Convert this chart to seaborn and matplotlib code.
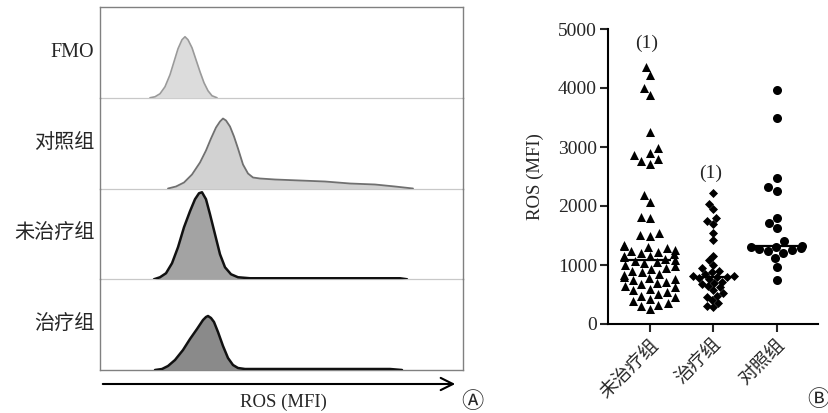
import numpy as np
import pandas as pd
import matplotlib
matplotlib.use('Agg')
import matplotlib.pyplot as plt
import seaborn as sns

# ---- 面板A：流式直方图（横坐标为荧光通道，纵坐标为细胞数，按图读取） ----
hist_names = ['FMO', '对照组', '未治疗组', '治疗组']

fmo_x = [50, 55, 60, 65, 70, 74, 78, 82, 85, 88, 92, 96, 100, 104, 108, 112, 117]
fmo_y = [0, 1, 4, 11, 23, 36, 49, 58, 61, 58, 50, 38, 26, 15, 7, 2, 0]

ctrl_x = [68, 76, 84, 92, 100, 106, 111, 116, 120, 123, 126, 130, 134, 138, 143,
          148, 153, 160, 175, 200, 225, 250, 275, 295, 313]
ctrl_y = [0, 2, 6, 14, 26, 38, 50, 61, 67, 70, 68, 62, 52, 40, 24,
          15, 11, 10, 9, 8, 7, 5, 4, 2, 0]

unt_x = [54, 60, 66, 72, 78, 84, 90, 95, 99, 102, 106, 110, 115, 120, 125, 131,
         138, 150, 180, 220, 260, 300, 307]
unt_y = [0, 2, 6, 16, 32, 52, 68, 80, 86, 87, 80, 65, 45, 25, 12, 5,
         2, 1, 1, 1, 1, 1, 0]

trt_x = [55, 62, 68, 75, 83, 90, 97, 103, 106, 108, 111, 114, 118, 123, 128, 133,
         138, 145, 170, 210, 250, 290, 302]
trt_y = [0, 1, 4, 10, 20, 31, 41, 50, 53, 54, 52, 48, 38, 24, 12, 5,
         2, 1, 1, 1, 1, 1, 0]

hist_x = [fmo_x, ctrl_x, unt_x, trt_x]
hist_y = [fmo_y, ctrl_y, unt_y, trt_y]
hist_fill = ['#dcdcdc', '#d2d2d2', '#a3a3a3', '#8a8a8a']
hist_edge = ['#9a9a9a', '#707070', '#111111', '#111111']
hist_lw = [1.2, 1.3, 1.8, 1.8]

# ---- 面板B：ROS (MFI) 散点 ----
groups = ['未治疗组', '治疗组', '对照组']
untreated = [4360, 4220, 4000, 3880, 3260, 2980, 2900, 2860, 2800, 2760, 2720,
             2190, 2070, 1820, 1790, 1540, 1510, 1500,
             1340, 1320, 1300, 1280, 1260, 1240, 1220, 1200, 1180, 1160, 1150, 1130, 1110, 1090,
             1070, 1050, 1030, 1000, 980, 950, 930, 900, 880, 850, 830, 800, 780, 760, 740, 720,
             700, 670, 650, 620, 600, 570, 540, 510, 480, 450, 420, 390, 360, 330, 300, 260]
treated = [2220, 2030, 1950, 1800, 1740, 1700, 1540, 1430, 1160, 1080, 1000, 950,
           900, 880, 850, 820, 810, 800, 790, 780, 760, 720, 700, 680, 650, 620,
           580, 520, 480, 450, 400, 350, 300, 280]
control = [3970, 3490, 2470, 2320, 2260, 1790, 1710, 1630, 1400, 1310, 1320, 1300,
           1290, 1270, 1250, 1230, 1200, 1120, 970, 750]
group_values = [untreated, treated, control]
group_markers = ['^', 'D', 'o']
group_sizes = [6.5, 4.6, 6.5]
sig_labels = ['(1)', '(1)', '']
sig_y = [4750, 2550, None]

df = pd.DataFrame({
    '组': np.repeat(groups, [len(v) for v in group_values]),
    'ROS': np.concatenate(group_values),
})

sns.set_theme(style='white')
plt.rcParams['font.family'] = ['Liberation Serif', 'Noto Sans CJK SC', 'DejaVu Sans']
plt.rcParams['axes.unicode_minus'] = False
circ_family = ['Noto Sans CJK SC', 'DejaVu Sans']

W, H = 829, 413
fig = plt.figure(figsize=(W / 100, H / 100), dpi=100)

# 面板A
left_px, right_px, top_px, row_h = 100, 463, 7, 90.75
for i, name in enumerate(hist_names):
    bottom = 1 - (top_px + row_h * (i + 1)) / H
    ax = fig.add_axes([left_px / W, bottom, (right_px - left_px) / W, row_h / H])
    ax.patch.set_alpha(0)
    ax.fill_between(hist_x[i], hist_y[i], 0, color=hist_fill[i], lw=0)
    sns.lineplot(x=hist_x[i], y=hist_y[i], ax=ax, color=hist_edge[i], lw=hist_lw[i],
                 sort=False, estimator=None)
    ax.set_xlim(0, right_px - left_px)
    ax.set_ylim(0, row_h)
    ax.set_xticks([])
    ax.set_yticks([])
    ax.set_xlabel('')
    ax.set_ylabel('')
    for s in ['left', 'right', 'top']:
        ax.spines[s].set_color('#808080')
        ax.spines[s].set_linewidth(1.0)
    ax.spines['top'].set_visible(i == 0)
    ax.spines['bottom'].set_color('#808080' if i == 3 else '#c8c8c8')
    ax.spines['bottom'].set_linewidth(1.0 if i == 3 else 0.9)
    ax.spines['bottom'].set_zorder(0.5)
    ax.text(-0.015, 0.5, name, transform=ax.transAxes, ha='right', va='center',
            fontsize=14.5)

fig.add_artist(matplotlib.patches.FancyArrowPatch(
    (100 / W, 1 - 384 / H), (458 / W, 1 - 384 / H), transform=fig.transFigure,
    arrowstyle='->', mutation_scale=22, lw=1.5, color='black'))
fig.text(283 / W, 1 - 402 / H, 'ROS (MFI)', ha='center', va='center', fontsize=13.5)
fig.text(472 / W, 1 - 402 / H, 'Ⓐ', ha='center', va='center', fontsize=16,
         family=circ_family)

# 面板B
axb = fig.add_axes([608 / W, 1 - 324 / H, 210 / W, 295 / H])
for g, m, s in zip(groups, group_markers, group_sizes):
    sns.swarmplot(data=df[df['组'] == g], x='组', y='ROS', order=groups, ax=axb,
                  marker=m, size=s, color='black', linewidth=0, warn_thresh=1)
sns.boxplot(data=df, x='组', y='ROS', order=groups, ax=axb, width=0.68,
            showbox=False, showcaps=False, showfliers=False, whis=0,
            whiskerprops={'visible': False},
            medianprops={'color': 'black', 'lw': 1.6, 'zorder': 5})
axb.set_xlim(-0.66, 2.65)
axb.set_ylim(0, 5000)
axb.set_yticks([0, 1000, 2000, 3000, 4000, 5000])
axb.set_xticks(range(3))
axb.set_xticklabels(groups, rotation=45, ha='right', rotation_mode='anchor', fontsize=13.5)
axb.tick_params(axis='y', labelsize=14, length=6, width=1.5, direction='out', left=True, pad=2)
axb.tick_params(axis='x', length=6, width=1.5, direction='out', bottom=True, pad=3)
axb.set_xlabel('')
axb.set_ylabel('ROS (MFI)', fontsize=13.5, labelpad=10)
sns.despine(ax=axb)
for s in ['left', 'bottom']:
    axb.spines[s].set_linewidth(1.5)
    axb.spines[s].set_color('black')
for i, (lab, yv) in enumerate(zip(sig_labels, sig_y)):
    if lab:
        axb.text(i - 0.05, yv, lab, ha='center', va='center', fontsize=14)
fig.text(818 / W, 1 - 400 / H, 'Ⓑ', ha='center', va='center', fontsize=16,
         family=circ_family)

fig.savefig('out.png', dpi=100)
